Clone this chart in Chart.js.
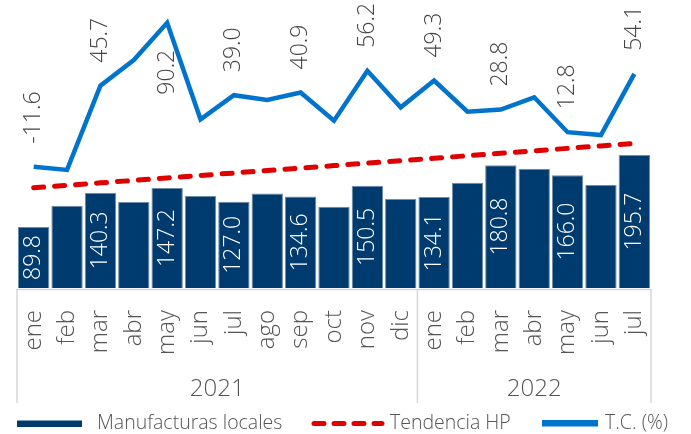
<!DOCTYPE html>
<html>
<head>
<meta charset="utf-8">
<script src="https://cdn.jsdelivr.net/npm/chart.js@4.4.1/dist/chart.umd.min.js"></script>
<style>
  html, body { margin: 0; padding: 0; background: #fff; }
  #wrap { width: 691px; height: 434px; position: relative; }
</style>
</head>
<body>
<div id="wrap"><canvas id="myChart"></canvas></div>
<script>
const months = ["ene", "feb", "mar", "abr", "may", "jun", "jul", "ago", "sep", "oct", "nov", "dic",
                "ene", "feb", "mar", "abr", "may", "jun", "jul"];
const yearLabels = ["2021", "2022"];
const yearFirst = [0, 12];
const yearLast = [11, 18];

const manufacturas = [89.8, 121.0, 140.3, 126.5, 147.2, 135.3, 127.0, 139.3, 134.6, 119.6,
                      150.5, 131.0, 134.1, 154.9, 180.8, 175.4, 166.0, 151.5, 195.7];
const tendenciaHP = [147.5, 151.1, 154.8, 158.4, 162.0, 165.7, 169.3, 172.9, 176.5, 180.2,
                     183.8, 187.4, 191.0, 194.7, 198.3, 201.9, 205.6, 209.2, 212.8];
const tasaCrec = [-11.6, -13.9, 45.7, 63.8, 90.2, 21.9, 39.0, 35.6, 40.9, 20.9,
                  56.2, 30.4, 49.3, 27.3, 28.8, 37.5, 12.8, 10.8, 54.1];
// which points get a number, and where the line label goes
const labelBelow = [4];

const navy = "#003b6f";
const red = "#e00000";
const blue = "#0073cc";
const grey = "#555555";
const FONT = "'Open Sans', sans-serif";

function rotText(ctx, txt, x, y, align) {
    ctx.save();
    ctx.translate(x, y);
    ctx.rotate(-Math.PI / 2);
    ctx.textAlign = align;
    ctx.textBaseline = "middle";
    ctx.fillText(txt, 0, 0);
    ctx.restore();
}

const labelsPlugin = {
    id: "labelsPlugin",
    afterDatasetsDraw(chart) {
        let ctx = chart.ctx;
        ctx.font = "300 23px " + FONT;
        // bar values (every other month)
        let barMeta = chart.getDatasetMeta(0);
        ctx.fillStyle = "#ffffff";
        barMeta.data.forEach((bar, i) => {
            if (i % 2 != 0) return;
            rotText(ctx, manufacturas[i].toFixed(1), bar.x, (bar.y + bar.base) / 2, "center");
        });
        // growth rate values
        let lineMeta = chart.getDatasetMeta(2);
        ctx.fillStyle = "#454545";
        lineMeta.data.forEach((pt, i) => {
            if (i % 2 != 0) return;
            if (labelBelow.includes(i)) {
                rotText(ctx, tasaCrec[i].toFixed(1), pt.x, pt.y + 27, "right");
            } else {
                rotText(ctx, tasaCrec[i].toFixed(1), pt.x, pt.y - 23, "left");
            }
        });
    },
    afterDraw(chart) {
        let ctx = chart.ctx;
        let xs = chart.scales.x;
        let area = chart.chartArea;
        let half = (xs.getPixelForValue(1) - xs.getPixelForValue(0)) / 2;

        // frame under the axis
        ctx.save();
        ctx.strokeStyle = "#d6d6d6";
        ctx.lineWidth = 1.5;
        ctx.beginPath();
        ctx.moveTo(area.left, area.bottom + 1.5);
        ctx.lineTo(area.right, area.bottom + 1.5);
        let edges = [xs.getPixelForValue(0) - half, xs.getPixelForValue(12) - half, xs.getPixelForValue(18) + half];
        edges.forEach((x) => {
            ctx.moveTo(x, area.bottom + 1);
            ctx.lineTo(x, 403);
        });
        ctx.stroke();

        // years
        ctx.fillStyle = grey;
        ctx.font = "300 24px " + FONT;
        ctx.textAlign = "center";
        ctx.textBaseline = "alphabetic";
        yearLabels.forEach((y, k) => {
            let cx = (xs.getPixelForValue(yearFirst[k]) + xs.getPixelForValue(yearLast[k])) / 2;
            ctx.fillText(y, cx, 396);
        });

        // legend
        ctx.font = "300 19.5px " + FONT;
        ctx.textAlign = "left";
        ctx.fillStyle = navy;
        ctx.fillRect(17, 420.5, 65, 6.5);
        ctx.fillStyle = grey;
        ctx.fillText("Manufacturas locales", 97, 429);

        ctx.strokeStyle = red;
        ctx.lineWidth = 5;
        ctx.lineCap = "round";
        ctx.setLineDash([10, 10]);
        ctx.beginPath();
        ctx.moveTo(314, 423.5);
        ctx.lineTo(382, 423.5);
        ctx.stroke();
        ctx.setLineDash([]);
        ctx.fillText("Tendencia HP", 390, 429);

        ctx.fillStyle = blue;
        ctx.fillRect(542, 420, 56, 6.5);
        ctx.fillStyle = grey;
        ctx.fillText("T.C. (%)", 605, 429);
        ctx.restore();
    },
};

const ctx = document.getElementById("myChart");
new Chart(ctx, {
    type: "bar",
    data: {
        labels: months,
        datasets: [
            {
                label: "Manufacturas locales",
                data: manufacturas,
                backgroundColor: navy,
                borderColor: "#6f8ca8",
                borderWidth: 1,
                barPercentage: 0.94,
                categoryPercentage: 1,
                yAxisID: "y",
                order: 3,
            },
            {
                type: "line",
                label: "Tendencia HP",
                data: tendenciaHP,
                borderColor: red,
                borderWidth: 5,
                borderDash: [10, 11],
                borderCapStyle: "round",
                pointRadius: 0,
                fill: false,
                yAxisID: "y",
                order: 2,
            },
            {
                type: "line",
                label: "T.C. (%)",
                data: tasaCrec,
                borderColor: blue,
                borderWidth: 4.5,
                pointRadius: 0,
                fill: false,
                tension: 0,
                clip: false,
                yAxisID: "y2",
                order: 1,
            },
        ],
    },
    options: {
        responsive: true,
        maintainAspectRatio: false,
        animation: false,
        layout: {
            padding: { left: 17, right: 40, top: 0, bottom: 0 },
        },
        plugins: {
            legend: { display: false },
            tooltip: { enabled: false },
        },
        scales: {
            x: {
                offset: true,
                grid: { display: false },
                border: { display: false },
                ticks: {
                    autoSkip: false,
                    minRotation: 90,
                    maxRotation: 90,
                    padding: 14,
                    color: grey,
                    font: { family: "'Open Sans', sans-serif", size: 24, weight: "300" },
                },
                afterFit: (scale) => {
                    scale.height = 146;
                },
            },
            y: {
                display: false,
                min: 0,
                max: 424,
            },
            y2: {
                display: false,
                min: -97.4,
                max: 106.3,
            },
        },
    },
    plugins: [labelsPlugin],
});
</script>
</body>
</html>
